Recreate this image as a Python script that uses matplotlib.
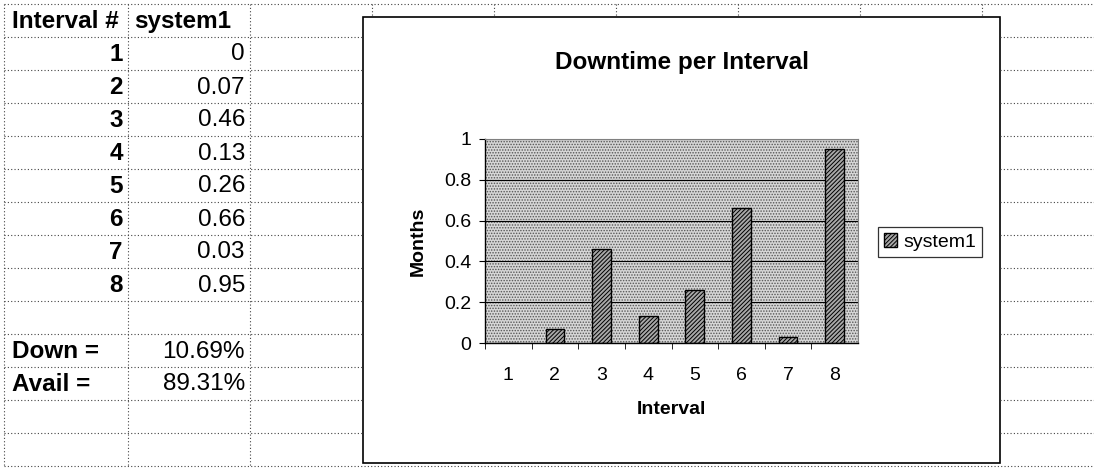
import matplotlib
matplotlib.use('Agg')
import matplotlib.pyplot as plt
from matplotlib.patches import Rectangle
from matplotlib.lines import Line2D

plt.rcParams['font.family'] = ['Liberation Sans', 'DejaVu Sans']
plt.rcParams['hatch.linewidth'] = 0.7

# data
intervals = [1, 2, 3, 4, 5, 6, 7, 8]
downtime = [0, 0.07, 0.46, 0.13, 0.26, 0.66, 0.03, 0.95]
cell_values = ['0', '0.07', '0.46', '0.13', '0.26', '0.66', '0.03', '0.95']
down_txt = '10.69%'
avail_txt = '89.31%'
yticks = [0, 0.2, 0.4, 0.6, 0.8, 1]
ytick_labels = ['0', '0.2', '0.4', '0.6', '0.8', '1']

W, H = 1094, 471
fig = plt.figure(figsize=(W / 100, H / 100), dpi=100)
fig.patch.set_facecolor('white')


def fx(x):
    return x / W


def fy(y):
    return 1 - y / H


# spreadsheet grid (pixel layout)
row0 = 4
row_h = 33
n_rows = 14
chart_l, chart_r, chart_t, chart_b = 363, 1000, 17, 463
dot = dict(color='#444444', lw=0.8, ls=(0, (1, 2)))

for k in range(n_rows + 1):
    y = row0 + k * row_h
    if k == 0 or k == n_rows:
        fig.add_artist(Line2D([fx(4), fx(W)], [fy(y), fy(y)], **dot))
    else:
        fig.add_artist(Line2D([fx(4), fx(chart_l)], [fy(y), fy(y)], **dot))
        fig.add_artist(Line2D([fx(chart_r), fx(W)], [fy(y), fy(y)], **dot))

for x in [4, 128, 250]:
    fig.add_artist(Line2D([fx(x), fx(x)], [fy(row0), fy(row0 + n_rows * row_h)], **dot))
for x in [372, 494, 616, 738, 860, 982]:
    fig.add_artist(Line2D([fx(x), fx(x)], [fy(row0), fy(chart_t)], **dot))

# cell text
fs_cell = 17.5


def row_y(k):
    return fy(row0 + k * row_h + row_h / 2 + 1)


fig.text(fx(12), row_y(0), 'Interval #', fontsize=fs_cell, fontweight='bold', va='center')
fig.text(fx(134), row_y(0), 'system1', fontsize=fs_cell, fontweight='bold', va='center')
for i, (n, v) in enumerate(zip(intervals, cell_values)):
    fig.text(fx(123), row_y(i + 1), str(n), fontsize=fs_cell, fontweight='bold', va='center', ha='right')
    fig.text(fx(245), row_y(i + 1), v, fontsize=fs_cell, va='center', ha='right')
fig.text(fx(12), row_y(10), 'Down =', fontsize=fs_cell, fontweight='bold', va='center')
fig.text(fx(245), row_y(10), down_txt, fontsize=fs_cell, va='center', ha='right')
fig.text(fx(12), row_y(11), 'Avail =', fontsize=fs_cell, fontweight='bold', va='center')
fig.text(fx(245), row_y(11), avail_txt, fontsize=fs_cell, va='center', ha='right')

# chart box
fig.add_artist(Rectangle((fx(chart_l), fy(chart_b)), fx(chart_r - chart_l), (chart_b - chart_t) / H,
                         transform=fig.transFigure, facecolor='white', edgecolor='black', lw=1.2, zorder=1))

fig.text(fx(682), fy(62), 'Downtime per Interval', fontsize=17.5, fontweight='bold', ha='center', va='center')

# plot area
pl, pr, pt, pb = 485, 858, 139, 343
ax = fig.add_axes([fx(pl), fy(pb), fx(pr - pl), (pb - pt) / H], zorder=2)
ax.set_facecolor('white')
ax.add_patch(Rectangle((0, 0), 1, 1, transform=ax.transAxes, facecolor='#d6d6d6',
                       edgecolor='#555555', hatch='......', lw=0, zorder=0))
ax.set_axisbelow(True)
ax.yaxis.grid(True, color='black', lw=0.8)

bars = ax.bar(intervals, downtime, width=0.4, facecolor='#a8a8a8', edgecolor='black',
              hatch='////////', lw=1.0, zorder=2, label='system1')

ax.set_xlim(0.5, 8.5)
ax.set_ylim(0, 1)
ax.set_yticks(yticks)
ax.set_yticklabels(ytick_labels, fontsize=14)
ax.set_xticks(intervals)
ax.set_xticklabels([str(i) for i in intervals], fontsize=14)
ax.set_xticks([i + 0.5 for i in range(8)], minor=True)
ax.tick_params(axis='x', which='major', length=0, pad=17)
ax.tick_params(axis='x', which='minor', length=4, direction='out')
ax.tick_params(axis='y', length=4, direction='out', pad=6)

ax.spines['top'].set_color('#808080')
ax.spines['right'].set_color('#808080')
for s in ['left', 'bottom']:
    ax.spines[s].set_color('black')
    ax.spines[s].set_linewidth(1.0)

ax.set_xlabel('Interval', fontsize=14, fontweight='bold')
ax.set_ylabel('Months', fontsize=14, fontweight='bold')
ax.xaxis.set_label_coords(0.5, (pb - 401) / (pb - pt))
ax.yaxis.set_label_coords((427 - pl) / (pr - pl), 0.5)

leg = fig.legend(handles=[bars], loc='center', bbox_to_anchor=(fx(930), fy(242)),
                 fontsize=14, frameon=True, fancybox=False, handlelength=0.7, handleheight=0.7,
                 handletextpad=0.3, borderpad=0.3, borderaxespad=0)
leg.get_frame().set_edgecolor('black')
leg.get_frame().set_linewidth(0.9)
leg.set_zorder(3)

fig.savefig('out.png', dpi=100)
